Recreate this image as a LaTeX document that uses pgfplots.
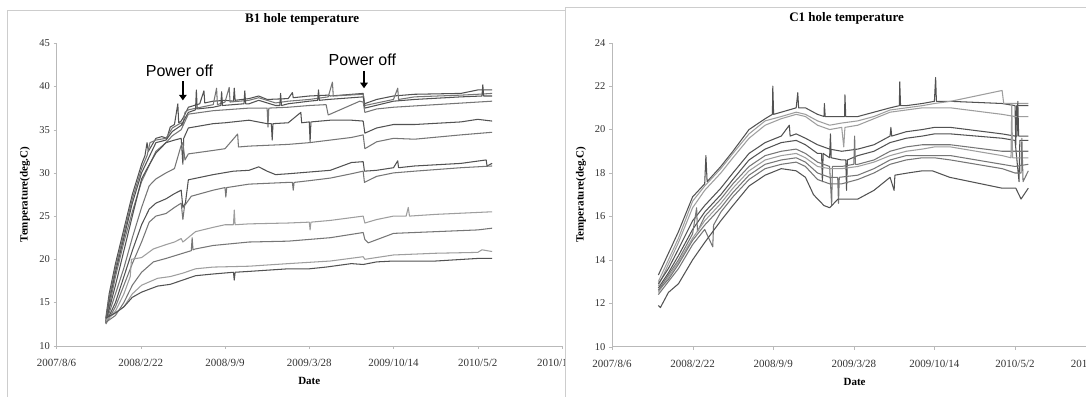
\documentclass[border=0pt]{standalone}
\usepackage{fontspec}
\setmainfont{Liberation Serif}
\newfontfamily\pofont{Liberation Sans}
\usepackage{pgfplots}
\pgfplotsset{compat=1.18}
\usetikzlibrary{arrows.meta}
\definecolor{gD}{RGB}{82,82,82}
\definecolor{gM}{RGB}{118,118,118}
\definecolor{gL}{RGB}{158,158,158}
\definecolor{frameC}{RGB}{205,205,205}
\definecolor{axC}{RGB}{185,185,185}
\pgfplotsset{
  mystyle/.style={
    scale only axis,
    xmin=0, xmax=1200, ymin=10,
    xtick={0,200,...,1200},
    xticklabels={2007/8/6,2008/2/22,2008/9/9,2009/3/28,2009/10/14,2010/5/2,2010/11/18},
    axis x line*=bottom, axis y line*=left,
    axis line style={axC,-},
    tick style={axC},
    major tick length=3pt,
    tick align=outside,
    yticklabel style={font=\fontsize{10.5}{12}\selectfont, text=black!80},
    xticklabel style={font=\fontsize{11}{12}\selectfont, text=black!80, yshift=-7pt},
    /pgf/number format/assume math mode=true,
    every axis plot/.append style={line width=1.05pt, line join=round, mark=none},
    title style={font=\bfseries\fontsize{13}{15}\selectfont, anchor=center},
    xlabel style={font=\bfseries\fontsize{11}{13}\selectfont, anchor=center},
    ylabel style={font=\bfseries\fontsize{11}{13}\selectfont, anchor=center},
    clip=false,
  }
}
\begin{document}
\begin{tikzpicture}[x=1pt,y=1pt]
\path[use as bounding box] (0pt,0pt) rectangle (1086pt,396pt);
\draw[frameC, fill=white] (7pt,-5pt) rectangle (640pt,386pt);
\begin{axis}[mystyle,
  at={(56.5pt,50.3pt)}, anchor=south west, width=505.5pt, height=302.4pt,
  ymax=45, ytick={10,15,...,45},
  title={B1 hole temperature},
  title style={at={(axis description cs:0.486,1.0595)}},
  xlabel={Date}, xlabel style={at={(axis description cs:0.5,-0.1167)}},
  ylabel={Temperature(deg.C)}, ylabel style={at={(axis description cs:-0.0623,0.5)}},
]
\addplot[gD] coordinates {(117,13.2)(125,16)(140,19.5)(160,23.5)(180,27.5)(202,31)(210,32)(215,33.5)(218,32.5)(236,34)(250,34.2)(262,34)(270,35.3)(280,35.6)(288,38)(290,35.8)(296,36)(302,36.5)(313,37.6)(340,38)(350,39.5)(352,38.1)(372,38.3)(400,38.4)(420,38.3)(422,39.8)(424,38.4)(457,38.6)(480,38.9)(500,38.5)(550,38.6)(560,39.3)(562,38.7)(600,38.9)(645,39)(650,38.9)(728,39.2)(731,38.0)(760,38.5)(800,38.9)(850,39.1)(960,39.2)(1000,39.6)(1034,39.6)};
\addplot[gM] coordinates {(117,13)(125,15.5)(140,19)(160,23)(180,27)(202,30.5)(215,32)(222,33.5)(236,33.8)(260,34)(275,35.2)(296,35.8)(300,35.5)(305,37)(313,37.3)(372,37.9)(380,39.8)(382,37.9)(400,38.2)(410,39.9)(412,38.2)(457,38.4)(480,38.7)(520,38.1)(550,38.3)(600,38.5)(645,38.8)(655,40.5)(657,38.9)(728,39.1)(732,37.8)(800,38.5)(810,39.8)(812,38.5)(850,38.8)(960,39.0)(1000,39.1)(1034,39.2)};
\addplot[gD] coordinates {(117,12.8)(125,15)(140,18.5)(160,22.5)(180,26.5)(202,30)(236,33.5)(260,33.8)(275,34.8)(296,35.5)(313,37)(330,37.3)(332,39.6)(334,37.4)(372,37.6)(390,37.8)(392,39.4)(394,37.8)(445,38)(447,39.5)(449,38)(457,38)(480,38.4)(520,37.8)(530,37.8)(532,39.2)(534,37.8)(550,38.0)(600,38.3)(620,38.4)(622,39.6)(624,38.4)(645,38.5)(728,38.8)(732,37.5)(800,38.3)(850,38.5)(960,38.8)(1010,38.9)(1012,40.2)(1014,38.9)(1034,38.9)};
\addplot[gM] coordinates {(117,12.8)(125,14.5)(140,18)(160,22)(180,25.5)(202,29)(236,32.5)(260,33.5)(275,34.3)(296,35)(313,36.8)(372,37.2)(457,37.5)(500,37.5)(502,35.3)(504,37.5)(550,37.6)(600,37.8)(640,37.9)(645,36.7)(720,38.3)(728,38.2)(732,37)(760,37.4)(800,37.6)(900,37.9)(1034,38.3)};
\addplot[gD] coordinates {(117,12.7)(140,17)(160,21)(180,25)(202,29.3)(215,30.5)(236,32.3)(260,33.5)(280,33.8)(296,34)(300,31)(302,34)(313,35.2)(372,35.7)(400,35.8)(457,36.1)(500,35.7)(510,35.7)(512,33.8)(514,35.7)(550,35.8)(580,37)(582,35.8)(600,35.9)(602,33.6)(604,35.9)(650,36.1)(700,36.1)(728,36)(732,34.6)(760,35.2)(800,35.6)(850,35.6)(960,35.9)(1000,36.2)(1034,36.0)};
\addplot[gM] coordinates {(117,12.6)(140,16)(160,19)(180,22.5)(202,26)(220,28.5)(236,29.3)(260,30)(280,30.5)(296,33.2)(300,33.5)(305,31.5)(313,32.2)(372,32.6)(400,32.8)(430,34.5)(432,33)(457,33.1)(550,33.3)(600,33.5)(650,33.8)(700,34.1)(728,34.4)(732,32.8)(760,33.6)(800,34)(850,33.9)(960,34.4)(1034,34.7)};
\addplot[gD] coordinates {(117,12.6)(140,15)(160,18)(180,21)(202,24)(220,25.8)(236,26.5)(260,27)(280,27.6)(296,28)(300,26)(306,26.5)(313,29.2)(372,29.8)(420,30.2)(457,30.3)(480,30.7)(500,30.2)(520,29.8)(550,29.9)(600,30.1)(650,30.3)(700,31.2)(728,31.3)(731,30.2)(760,30.3)(800,30.6)(810,31.4)(812,30.6)(850,30.8)(960,31.1)(1020,31.5)(1022,30.8)(1034,31.1)};
\addplot[gM] coordinates {(117,12.5)(140,14.5)(160,17)(180,19.5)(202,22)(220,24.3)(236,25)(260,25.3)(280,26)(296,26.5)(300,24.6)(304,26.2)(320,27.3)(372,28)(400,28.3)(402,27.2)(404,28.3)(457,28.7)(550,28.9)(560,28.9)(562,28.0)(564,28.9)(600,29.1)(650,29.4)(700,29.9)(728,30.2)(731,28.9)(760,29.6)(800,30)(850,30.2)(960,30.6)(1034,30.8)};
\addplot[gL] coordinates {(117,12.8)(140,14)(160,16)(175,18)(178,20)(202,20.2)(230,21.2)(260,21.7)(280,22)(296,22.4)(300,22)(330,23.2)(372,23.7)(400,24.0)(420,24)(422,25.7)(424,24.0)(457,24.1)(550,24.2)(600,24.3)(602,23.4)(604,24.3)(650,24.5)(728,25)(732,24.2)(760,24.6)(800,25)(830,25)(835,26)(838,25)(900,25.2)(1034,25.5)};
\addplot[gM] coordinates {(117,12.7)(140,13.5)(160,15)(180,17)(202,18.5)(230,19.7)(260,20.1)(280,20.4)(300,20.7)(320,21)(322,22.5)(324,21.1)(330,21.2)(372,21.6)(457,22)(550,22.1)(600,22.3)(650,22.5)(728,23.1)(732,22.3)(740,21.9)(800,23)(900,23.2)(1000,23.4)(1034,23.6)};
\addplot[gL] coordinates {(117,13)(140,13.8)(160,14.5)(180,16)(202,17)(240,17.8)(270,18)(300,18.4)(330,18.9)(372,19.1)(457,19.2)(550,19.5)(650,19.8)(728,20.3)(732,20)(800,20.5)(900,20.7)(1000,20.8)(1010,21.1)(1034,20.9)};
\addplot[gD] coordinates {(117,13.2)(140,13.8)(160,14.5)(180,15.6)(202,16.2)(240,16.9)(270,17.1)(300,17.6)(330,18.1)(372,18.3)(420,18.5)(422,17.6)(424,18.5)(457,18.6)(550,18.9)(600,18.9)(640,19.1)(700,19.5)(728,19.4)(760,19.7)(800,19.8)(900,19.8)(1000,20.1)(1034,20.1)};
\draw[black, line width=2.6pt, -{Triangle[length=5.5pt,width=7.5pt]}] (axis cs:300,40.6) -- (axis cs:300,38.4);
\node[font=\pofont\fontsize{16}{18}\selectfont] at (axis cs:292,41.8) {Power off};
\draw[black, line width=2.6pt, -{Triangle[length=5.5pt,width=7.5pt]}] (axis cs:730,41.8) -- (axis cs:730,39.8);
\node[font=\pofont\fontsize{16}{18}\selectfont] at (axis cs:726,43.1) {Power off};
\end{axis}
\draw[frameC, fill=white] (565pt,-5pt) rectangle (1100pt,388.7pt);
\begin{axis}[mystyle,
  at={(612pt,49.3pt)}, anchor=south west, width=483.6pt, height=304pt,
  ymax=24, ytick={10,12,...,24},
  title={C1 hole temperature},
  title style={at={(axis description cs:0.485,1.06)}},
  xlabel={Date}, xlabel style={at={(axis description cs:0.5016,-0.116)}},
  ylabel={Temperature(deg.C)}, ylabel style={at={(axis description cs:-0.064,0.5)}},
]
\addplot[gD] coordinates {(115,13.3)(140,14.3)(165,15.3)(200,16.9)(230,17.5)(233,18.8)(236,17.6)(270,18.3)(300,19.0)(340,20.0)(380,20.5)(398,20.7)(399,22.0)(401,20.7)(420,20.8)(457,21.0)(461,21.7)(463,21.0)(480,21.0)(510,20.7)(526,20.6)(527,21.2)(529,20.6)(540,20.6)(570,20.6)(577,20.6)(578,21.6)(580,20.6)(610,20.6)(650,20.8)(690,21.0)(713,21.1)(714,22.2)(716,21.1)(730,21.1)(770,21.2)(800,21.3)(803,22.4)(805,21.3)(840,21.3)(968,21.2)(1000,21.1)(1002,19.3)(1004,21.1)(1033,21.1)};
\addplot[gL] coordinates {(115,13.0)(140,14.0)(165,15.0)(200,16.7)(230,17.4)(270,18.2)(300,18.9)(340,19.8)(380,20.4)(420,20.6)(457,20.8)(480,20.7)(510,20.4)(540,20.2)(570,20.3)(610,20.4)(650,20.6)(690,20.9)(730,21.0)(770,21.1)(800,21.2)(840,21.3)(968,21.8)(972,21.2)(1000,21.2)(1033,21.2)};
\addplot[gL] coordinates {(115,12.8)(140,13.8)(165,14.8)(200,16.4)(230,17.2)(270,18.0)(300,18.7)(340,19.6)(380,20.2)(420,20.5)(457,20.7)(480,20.6)(510,20.2)(540,20.0)(570,20.1)(575,19.2)(578,20.1)(610,20.2)(650,20.5)(690,20.8)(730,20.9)(770,21.0)(800,21.0)(840,21.0)(968,20.7)(1000,20.6)(1033,20.6)};
\addplot[gD] coordinates {(115,12.9)(140,13.6)(165,14.5)(200,15.8)(230,16.5)(270,17.3)(300,18.0)(340,18.9)(380,19.4)(420,19.7)(440,20.2)(442,19.7)(457,19.8)(480,19.6)(510,19.3)(540,19.1)(570,19.0)(610,19.1)(650,19.3)(690,19.7)(692,20.1)(694,19.7)(730,19.9)(770,20.0)(800,20.1)(840,20.1)(968,19.8)(1000,19.7)(1005,19.7)(1007,21.3)(1009,19.7)(1033,19.7)};
\addplot[gD] coordinates {(115,12.7)(140,13.4)(165,14.2)(200,15.4)(230,16.2)(270,17.0)(300,17.7)(340,18.6)(380,19.1)(420,19.4)(457,19.5)(480,19.3)(510,18.9)(520,18.9)(522,17.6)(524,18.9)(540,18.7)(542,19.8)(544,18.7)(570,18.6)(580,18.6)(582,17.2)(584,18.6)(610,18.8)(650,19.0)(690,19.4)(730,19.6)(770,19.7)(800,19.8)(840,19.8)(968,19.6)(1000,19.5)(1010,17.6)(1012,19.5)(1033,19.5)};
\addplot[gM] coordinates {(115,12.6)(140,13.3)(165,14.0)(200,15.2)(210,16.4)(212,15.3)(230,16.0)(270,16.8)(300,17.5)(340,18.3)(380,18.8)(420,19.0)(457,19.1)(480,18.9)(510,18.5)(540,18.3)(545,16.5)(547,18.3)(570,18.3)(600,18.4)(602,19.7)(604,18.4)(610,18.4)(650,18.6)(690,19.0)(730,19.2)(770,19.3)(800,19.3)(840,19.3)(968,19.0)(1000,19.0)(1033,19.0)};
\addplot[gL] coordinates {(115,12.5)(140,13.2)(165,13.9)(200,15.0)(230,15.8)(270,16.6)(300,17.3)(340,18.1)(380,18.6)(420,18.8)(457,18.9)(480,18.7)(510,18.3)(540,18.2)(570,18.2)(610,18.3)(650,18.5)(690,18.8)(730,19.0)(770,19.1)(800,19.2)(840,19.2)(968,18.8)(990,18.7)(992,21.2)(994,18.7)(1033,18.7)};
\addplot[gM] coordinates {(115,12.6)(140,13.1)(165,13.8)(200,14.9)(230,15.6)(270,16.4)(300,17.1)(340,17.9)(380,18.4)(420,18.6)(457,18.7)(480,18.5)(510,18.0)(540,17.8)(560,17.8)(562,16.6)(564,17.8)(610,17.9)(650,18.2)(690,18.6)(730,18.8)(770,18.8)(800,18.8)(840,18.8)(968,18.4)(1000,18.3)(1033,18.4)};
\addplot[gM] coordinates {(115,12.4)(140,13.0)(165,13.6)(200,14.7)(230,15.4)(250,14.6)(252,15.6)(270,16.2)(300,16.9)(340,17.7)(380,18.2)(420,18.4)(457,18.5)(480,18.3)(510,17.7)(540,17.5)(570,17.5)(610,17.7)(650,18.0)(690,18.4)(730,18.6)(770,18.7)(800,18.7)(840,18.6)(968,18.2)(1000,18.0)(1015,18.0)(1017,19.6)(1020,17.6)(1033,18.1)};
\addplot[gD] coordinates {(115,11.9)(120,11.8)(140,12.5)(165,12.9)(200,14.0)(230,14.8)(270,15.8)(300,16.5)(340,17.4)(380,17.9)(420,18.2)(457,18.1)(480,17.8)(500,17.0)(526,16.5)(540,16.4)(561,16.8)(610,16.8)(650,17.2)(690,17.8)(700,17.2)(702,17.9)(734,18.0)(770,18.1)(795,18.1)(838,17.8)(968,17.3)(1002,17.3)(1015,16.8)(1033,17.3)};
\end{axis}
\end{tikzpicture}
\end{document}
